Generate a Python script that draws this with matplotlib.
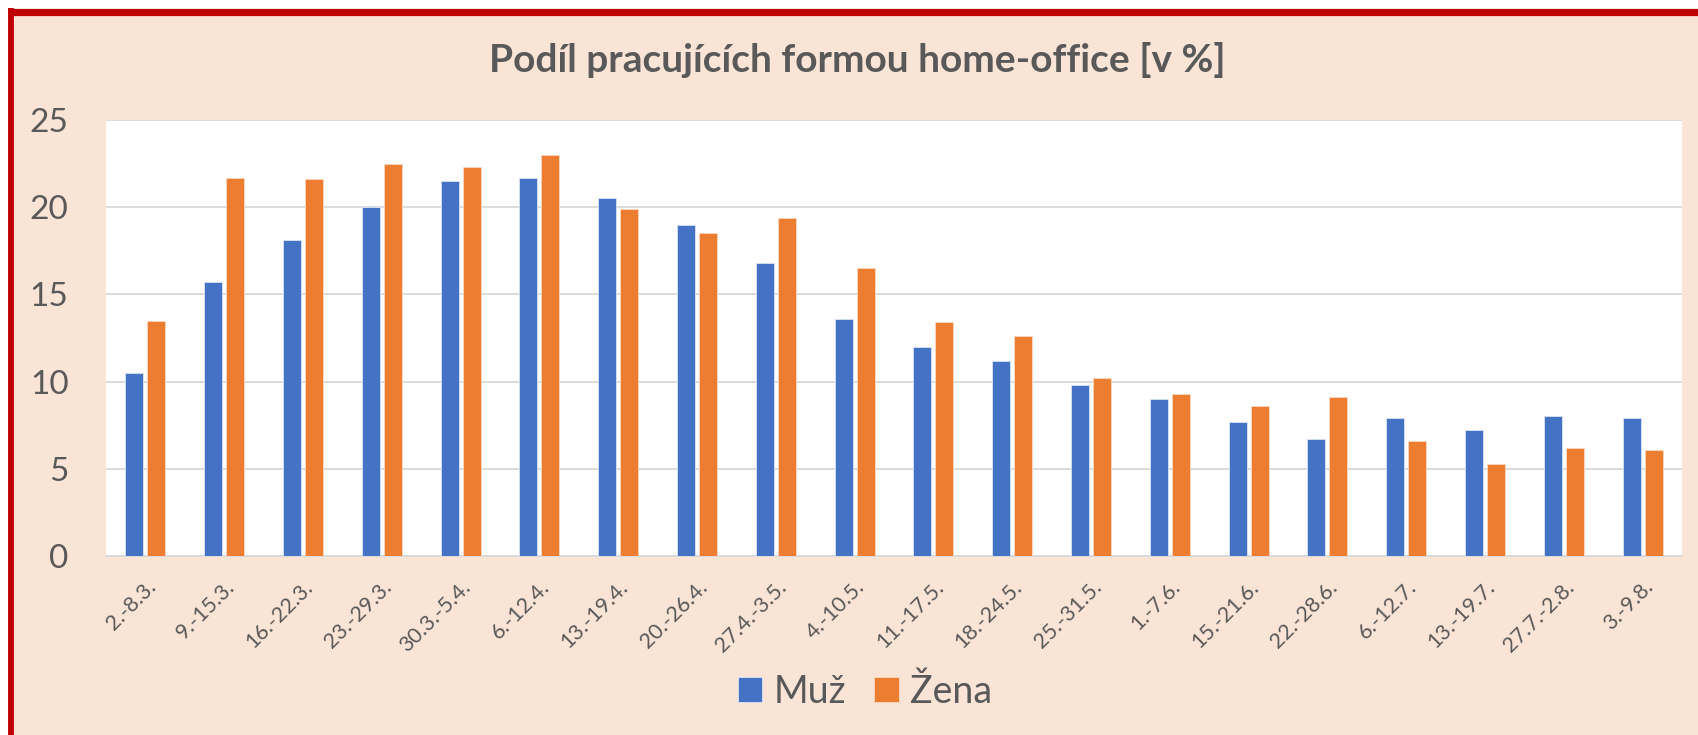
import matplotlib
matplotlib.use("Agg")
import matplotlib.pyplot as plt
import numpy as np
from matplotlib.patches import Rectangle
from matplotlib.lines import Line2D

plt.rcParams['font.family'] = ['Lato', 'DejaVu Sans']

categories = ["2.-8.3.", "9.-15.3.", "16.-22.3.", "23.-29.3.", "30.3.-5.4.", "6.-12.4.",
              "13.-19.4.", "20.-26.4.", "27.4.-3.5.", "4.-10.5.", "11.-17.5.", "18.-24.5.",
              "25.-31.5.", "1.-7.6.", "15.-21.6.", "22.-28.6.", "6.-12.7.", "13.-19.7.",
              "27.7.-2.8.", "3.-9.8."]
muz = [10.5, 15.7, 18.1, 20.0, 21.5, 21.7, 20.5, 19.0, 16.8, 13.6,
       12.0, 11.2, 9.8, 9.0, 7.7, 6.7, 7.9, 7.2, 8.0, 7.9]
zena = [13.5, 21.7, 21.6, 22.5, 22.3, 23.0, 19.9, 18.5, 19.4, 16.5,
        13.4, 12.6, 10.2, 9.3, 8.6, 9.1, 6.6, 5.3, 6.2, 6.1]
series_names = ["Muž", "Žena"]
title = "Podíl pracujících formou home-office [v %]"
yticks = [0, 5, 10, 15, 20, 25]

W, H = 1698, 735
fig = plt.figure(figsize=(W / 100, H / 100), dpi=100)
fig.patch.set_facecolor("white")

peach = "#FAE4D6"
red = "#C00000"
text_col = "#595959"

# background panel with red border (top & left visible)
fig.add_artist(Rectangle((8 / W, 0), 1 - 8 / W, 1 - 9 / H, transform=fig.transFigure,
                         facecolor=peach, edgecolor="none", zorder=0))
fig.add_artist(Line2D([8 / W, 1], [1 - 11.5 / H, 1 - 11.5 / H], transform=fig.transFigure,
                      color=red, linewidth=5.2, solid_capstyle="butt", zorder=1))
fig.add_artist(Line2D([10.5 / W, 10.5 / W], [0, 1 - 8 / H], transform=fig.transFigure,
                      color=red, linewidth=4.2, solid_capstyle="butt", zorder=1))

ax = fig.add_axes([106 / W, (H - 556) / H, (1682 - 106) / W, (556 - 120) / H])
ax.set_facecolor("white")

x = np.arange(len(categories))
w = 0.23
g = 0.05
ax.bar(x - (w + g) / 2, muz, width=w, color="#4472C4", edgecolor="#DCE4F5",
       linewidth=0.6, label=series_names[0], zorder=3)
ax.bar(x + (w + g) / 2, zena, width=w, color="#ED7D31", edgecolor="#FBD9C2",
       linewidth=0.6, label=series_names[1], zorder=3)

ax.set_xlim(-0.5, len(categories) - 0.5)
ax.set_ylim(0, 25)
ax.set_yticks(yticks)
ax.yaxis.grid(True, color="#D9D9D9", linewidth=1.3, zorder=0)
ax.set_axisbelow(True)
for s in ["top", "right", "left"]:
    ax.spines[s].set_visible(False)
ax.spines["bottom"].set_color("#D9D9D9")
ax.spines["bottom"].set_linewidth(1.3)

ax.tick_params(axis="y", length=0, pad=27, labelsize=24, labelcolor=text_col)
ax.tick_params(axis="x", length=0, pad=15, labelsize=15.5, labelcolor=text_col)
ax.set_xticks(x)
ax.set_xticklabels(categories, rotation=45, ha="right", rotation_mode="anchor")

fig.text(857 / W, 1 - 60 / H, title, ha="center", va="center", fontsize=28,
         fontweight="bold", color=text_col)

leg = ax.legend(loc="center", bbox_to_anchor=(865 / W, (H - 692) / H),
                bbox_transform=fig.transFigure, ncol=2, frameon=False,
                fontsize=27, handlelength=0.65, handleheight=0.65, handletextpad=0.3,
                columnspacing=0.75)
for t in leg.get_texts():
    t.set_color(text_col)

fig.savefig("out.png", dpi=100, facecolor=fig.get_facecolor())
